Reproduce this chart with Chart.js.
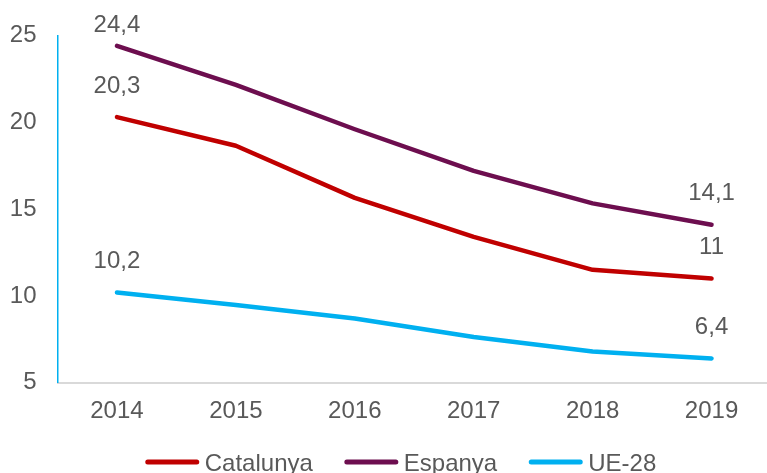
<!DOCTYPE html>
<html>
<head>
<meta charset="utf-8">
<script src="https://cdn.jsdelivr.net/npm/chart.js@4"></script>
<style>
  html, body { margin: 0; padding: 0; background: #fff; overflow: hidden; }
  #wrap { position: absolute; left: 0; top: 0; width: 780px; height: 490px; }
</style>
</head>
<body>
<div id="wrap"><canvas id="c" width="780" height="490"></canvas></div>
<script>
const categories = ['2014', '2015', '2016', '2017', '2018', '2019'];
const catalunya = [20.3, 18.65, 15.65, 13.4, 11.5, 11.0];
const espanya = [24.4, 22.15, 19.6, 17.2, 15.33, 14.1];
const ue28 = [10.2, 9.48, 8.7, 7.63, 6.8, 6.4];
const seriesNames = ['Catalunya', 'Espanya', 'UE-28'];
const seriesColors = ['#C00000', '#6D0E4F', '#00B0F0'];
const labelTexts = [['20,3', '11'], ['24,4', '14,1'], ['10,2', '6,4']];
const yTicks = [5, 10, 15, 20, 25];

const FONT = '"Liberation Sans", Arial, sans-serif';
const TEXT_COLOR = '#595959';

const endLabels = {
  id: 'endLabels',
  afterDatasetsDraw(chart) {
    const ctx = chart.ctx;
    ctx.save();
    ctx.font = '24px ' + FONT;
    ctx.fillStyle = TEXT_COLOR;
    ctx.textAlign = 'center';
    ctx.textBaseline = 'middle';
    chart.data.datasets.forEach((ds, i) => {
      const meta = chart.getDatasetMeta(i);
      const pts = [meta.data[0], meta.data[meta.data.length - 1]];
      pts.forEach((p, j) => {
        const y = Math.max(p.y - 31, 25);
        ctx.fillText(labelTexts[i][j], p.x, y);
      });
    });
    ctx.restore();
  }
};

const customLegend = {
  id: 'customLegend',
  afterDraw(chart) {
    const ctx = chart.ctx;
    ctx.save();
    ctx.font = '24px ' + FONT;
    const lineW = 53, gapText = 6, gapItem = 32;
    const widths = chart.data.datasets.map(ds => lineW + gapText + ctx.measureText(ds.label).width);
    const total = widths.reduce((a, b) => a + b, 0) + gapItem * (widths.length - 1);
    let x = 401 - total / 2;
    const y = 462;
    chart.data.datasets.forEach((ds, i) => {
      ctx.strokeStyle = ds.borderColor;
      ctx.lineWidth = 5;
      ctx.lineCap = 'round';
      ctx.beginPath();
      ctx.moveTo(x + 2, y);
      ctx.lineTo(x + lineW - 2, y);
      ctx.stroke();
      ctx.fillStyle = TEXT_COLOR;
      ctx.textAlign = 'left';
      ctx.textBaseline = 'alphabetic';
      ctx.fillText(ds.label, x + lineW + gapText, y + 8.6);
      x += widths[i] + gapItem;
    });
    ctx.restore();
  }
};

const seriesData = [catalunya, espanya, ue28];

new Chart(document.getElementById('c'), {
  type: 'line',
  data: {
    labels: categories,
    datasets: seriesData.map((d, i) => ({
      label: seriesNames[i],
      data: d,
      borderColor: seriesColors[i],
      backgroundColor: seriesColors[i],
      borderWidth: 4.5,
      borderCapStyle: 'round',
      borderJoinStyle: 'round',
      pointRadius: 0,
      tension: 0,
      fill: false
    }))
  },
  options: {
    responsive: false,
    animation: false,
    devicePixelRatio: 1,
    layout: { padding: { top: 35.5, right: 9, left: 0, bottom: 0 } },
    plugins: {
      legend: { display: false },
      tooltip: { enabled: false }
    },
    scales: {
      x: {
        offset: true,
        grid: { display: false, drawTicks: false },
        border: { display: true, color: '#D9D9D9', width: 2 },
        ticks: { color: TEXT_COLOR, font: { family: FONT, size: 24 }, padding: 14, maxRotation: 0 },
        afterFit(scale) { scale.height = 107.3; }
      },
      y: {
        min: 5,
        max: 25,
        afterBuildTicks(scale) { scale.ticks = yTicks.map(v => ({ value: v })); },
        grid: { display: false, drawTicks: false },
        border: { display: true, color: '#00B0F0', width: 1.5 },
        ticks: { color: TEXT_COLOR, font: { family: FONT, size: 24 }, padding: 21 },
        afterFit(scale) { scale.width = 57.5; }
      }
    }
  },
  plugins: [endLabels, customLegend]
});
</script>
</body>
</html>
